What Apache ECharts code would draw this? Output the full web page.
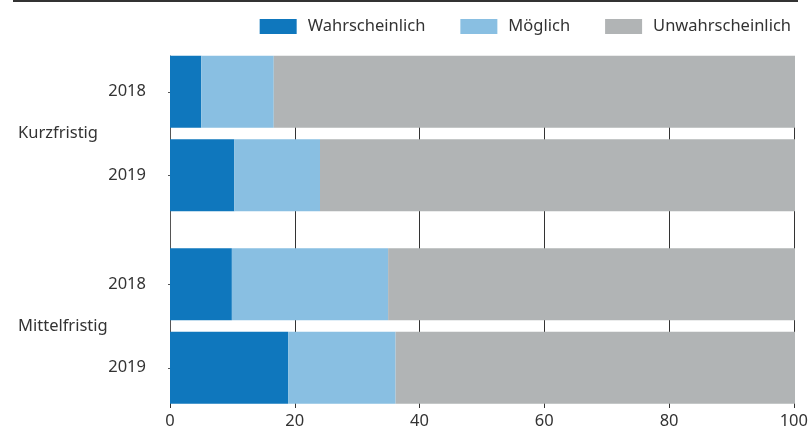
<!DOCTYPE html>
<html>
<head>
<meta charset="utf-8">
<script src="https://cdn.jsdelivr.net/npm/echarts@6/dist/echarts.min.js"></script>
<style>
  html, body { margin: 0; padding: 0; background: #fff; }
  #main { width: 811px; height: 430px; }
</style>
</head>
<body>
<div id="main"></div>
<script>
var years = ['2018', '2019']
var groups = ['Kurzfristig', 'Mittelfristig']
var seriesNames = ['Wahrscheinlich', 'Möglich', 'Unwahrscheinlich']
var xTicks = [0, 20, 40, 60, 80, 100]

// Anteile in %
var wahrKurz = [5.0, 10.3]
var moegKurz = [11.6, 13.7]
var unwahrKurz = [83.4, 76.0]
var wahrMittel = [9.9, 18.9]
var moegMittel = [25.0, 17.2]
var unwahrMittel = [65.1, 63.9]

var colors = ['#0f77bd', '#89bfe2', '#b1b4b5']
var font = 'Noto Sans'
var fontSize = 16.5
var textColor = '#333'

var myChart = echarts.init(document.getElementById('main'))

// grid 1 = Kurzfristig, grid 2 = Mittelfristig; yAxis 2*idx-1 holds the years
function barSeries(name, data, idx, color) {
    return {
        name: name,
        type: 'bar',
        stack: 'g' + idx,
        xAxisIndex: idx,
        yAxisIndex: 2 * idx - 1,
        barWidth: 72,
        data: data,
        itemStyle: { color: color },
        emphasis: { disabled: true },
        animation: false
    }
}

function groupGridAxes(idx) {
    return [
        {
            gridIndex: idx,
            type: 'category',
            data: years,
            inverse: true,
            axisLine: { show: false },
            axisTick: { show: true, length: 2, alignWithLabel: true, lineStyle: { color: '#555' } },
            axisLabel: { margin: 24, fontSize: fontSize, color: textColor, fontFamily: font }
        },
        {
            gridIndex: idx,
            type: 'category',
            data: [groups[idx - 1]],
            position: 'left',
            axisLine: { show: false },
            axisTick: { show: false },
            axisLabel: { margin: 152, align: 'left', fontSize: fontSize, color: textColor, fontFamily: font }
        }
    ]
}

var yAxes = [{
    gridIndex: 0,
    type: 'value',
    min: 0,
    max: 1,
    axisLine: { show: true, lineStyle: { color: '#555', width: 1 } },
    axisTick: { show: false },
    axisLabel: { show: false },
    splitLine: { show: false }
}]
yAxes = yAxes.concat(groupGridAxes(1), groupGridAxes(2))

var hiddenX = function(idx) {
    return { gridIndex: idx, type: 'value', min: 0, max: 100, show: false, splitLine: { show: false } }
}

var option = {
    backgroundColor: '#fff',
    textStyle: { fontFamily: font },
    graphic: [{
        type: 'line',
        shape: { x1: 13, y1: 1, x2: 798, y2: 1 },
        style: { stroke: '#333', lineWidth: 2 }
    }],
    legend: {
        data: seriesNames,
        right: 20,
        top: 18,
        padding: 0,
        icon: 'rect',
        itemWidth: 37,
        itemHeight: 15,
        itemGap: 35,
        textStyle: { fontSize: fontSize, color: textColor, fontFamily: font, padding: [0, 0, 0, 6] }
    },
    grid: [
        { left: 170, right: 16, top: 56, bottom: 26 },
        { left: 170, right: 16, top: 50, height: 167 },
        { left: 170, right: 16, top: 242.5, height: 167 }
    ],
    xAxis: [
        {
            gridIndex: 0,
            type: 'value',
            min: xTicks[0],
            max: xTicks[xTicks.length - 1],
            interval: 20,
            axisLine: { show: false },
            axisTick: { show: true, length: 6, lineStyle: { color: '#333' } },
            axisLabel: { margin: 11, fontSize: fontSize, color: textColor, fontFamily: font },
            splitLine: { show: true, lineStyle: { color: '#333', width: 1 } }
        },
        hiddenX(1),
        hiddenX(2)
    ],
    yAxis: yAxes,
    series: [
        barSeries(seriesNames[0], wahrKurz, 1, colors[0]),
        barSeries(seriesNames[1], moegKurz, 1, colors[1]),
        barSeries(seriesNames[2], unwahrKurz, 1, colors[2]),
        barSeries(seriesNames[0], wahrMittel, 2, colors[0]),
        barSeries(seriesNames[1], moegMittel, 2, colors[1]),
        barSeries(seriesNames[2], unwahrMittel, 2, colors[2])
    ]
}

myChart.setOption(option)
</script>
</body>
</html>
